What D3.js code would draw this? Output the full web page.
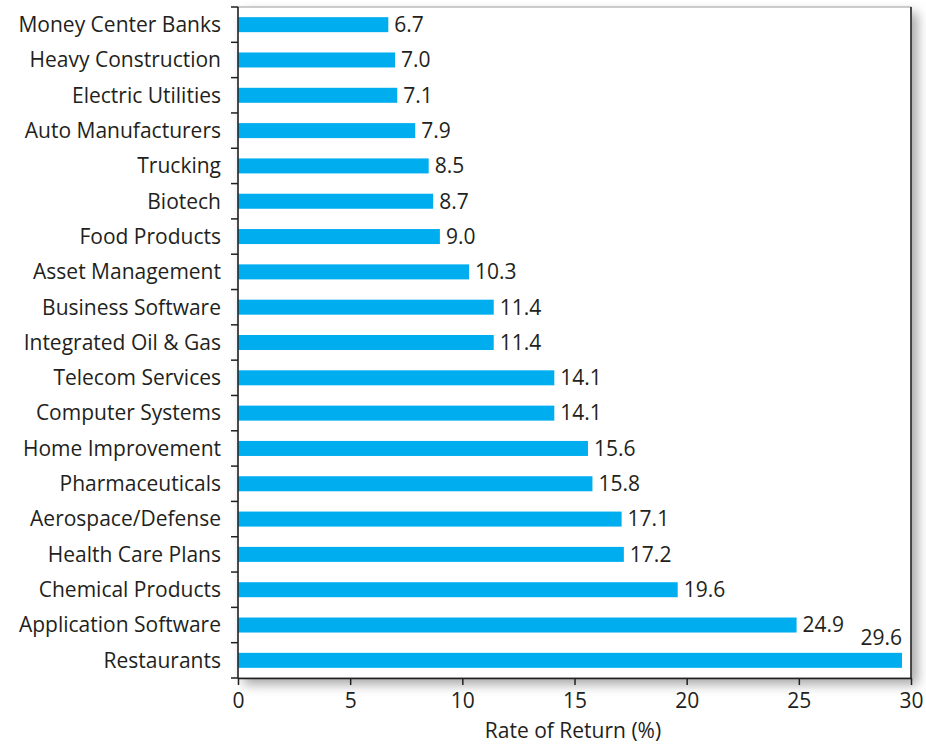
<!DOCTYPE html>
<html><head><meta charset="utf-8">
<script src="https://cdn.jsdelivr.net/npm/d3@7"></script>
<style>body{margin:0;background:#fff}svg{display:block}text{font-family:"Open Sans",sans-serif;fill:#231f20}</style>
</head><body><svg id="c" width="926" height="744"></svg>
<script>
const categories=["Money Center Banks","Heavy Construction","Electric Utilities","Auto Manufacturers","Trucking","Biotech","Food Products","Asset Management","Business Software","Integrated Oil & Gas","Telecom Services","Computer Systems","Home Improvement","Pharmaceuticals","Aerospace/Defense","Health Care Plans","Chemical Products","Application Software","Restaurants"];
const values=[6.7,7.0,7.1,7.9,8.5,8.7,9.0,10.3,11.4,11.4,14.1,14.1,15.6,15.8,17.1,17.2,19.6,24.9,29.6];
const xTicks=[0,5,10,15,20,25,30];
const xTitle="Rate of Return (%)";

const svg=d3.select("#c");
const L=238,R=911,T=7,B=678,FS=21;
const x=d3.scaleLinear().domain([0,30]).range([L,R]);
const y=d3.scaleBand().domain(categories).range([T,B]).paddingInner(0.575).paddingOuter(0.2875);

const defs=svg.append("defs");
const f=defs.append("filter").attr("id","sh").attr("x","-5%").attr("y","-5%").attr("width","115%").attr("height","115%");
f.append("feGaussianBlur").attr("in","SourceAlpha").attr("stdDeviation",6);
f.append("feOffset").attr("dx",6).attr("dy",6).attr("result","b");
f.append("feComponentTransfer").append("feFuncA").attr("type","linear").attr("slope",0.35);
const m=f.append("feMerge");m.append("feMergeNode");m.append("feMergeNode").attr("in","SourceGraphic");

svg.append("rect").attr("x",L).attr("y",T).attr("width",R-L).attr("height",B-T)
  .attr("fill","#fff").attr("stroke","#9a9a9a").attr("stroke-width",1).attr("filter","url(#sh)");
svg.append("line").attr("x1",R).attr("x2",R).attr("y1",T).attr("y2",B).attr("stroke","#231f20").attr("stroke-width",1.5);

svg.selectAll("rect.bar").data(values).join("rect").attr("class","bar")
  .attr("x",x(0)).attr("y",(d,i)=>y(categories[i])).attr("width",d=>x(d)-x(0)).attr("height",y.bandwidth())
  .attr("fill","#00aeef");

svg.selectAll("text.val").data(values).join("text").attr("class","val")
  .attr("x",(d,i)=>i===values.length-1?x(d):x(d)+6)
  .attr("y",(d,i)=>i===values.length-1?y(categories[i])-8:y(categories[i])+y.bandwidth()/2)
  .attr("dy",(d,i)=>i===values.length-1?"0":"0.35em")
  .attr("text-anchor",(d,i)=>i===values.length-1?"end":"start")
  .attr("font-size",FS).text(d=>d.toFixed(1));

// y axis
const yb=categories.map((c,i)=>T+i*(B-T)/categories.length).concat([B]);
svg.append("line").attr("x1",L).attr("x2",L).attr("y1",T).attr("y2",B).attr("stroke","#231f20").attr("stroke-width",1.5);
svg.selectAll("line.yt").data(yb).join("line").attr("class","yt").attr("x1",L-7).attr("x2",L).attr("y1",d=>d).attr("y2",d=>d).attr("stroke","#231f20").attr("stroke-width",1.5);
svg.selectAll("text.cat").data(categories).join("text").attr("class","cat")
  .attr("x",221).attr("y",d=>y(d)+y.bandwidth()/2).attr("dy","0.35em").attr("text-anchor","end").attr("font-size",FS).text(d=>d);

// x axis
const xa=svg.append("g").attr("transform",`translate(0,${B})`).call(d3.axisBottom(x).tickValues(xTicks).tickSize(7).tickSizeOuter(0).tickPadding(8).tickFormat(d3.format("d")));
xa.select(".domain").attr("stroke","#231f20").attr("stroke-width",1.5);
xa.selectAll(".tick line").attr("stroke","#231f20").attr("stroke-width",1.5);
xa.selectAll(".tick text").attr("font-size",FS).attr("font-family","Open Sans").attr("fill","#231f20");
svg.append("text").attr("x",573).attr("y",738).attr("text-anchor","middle").attr("font-size",FS).text(xTitle);
</script></body></html>
